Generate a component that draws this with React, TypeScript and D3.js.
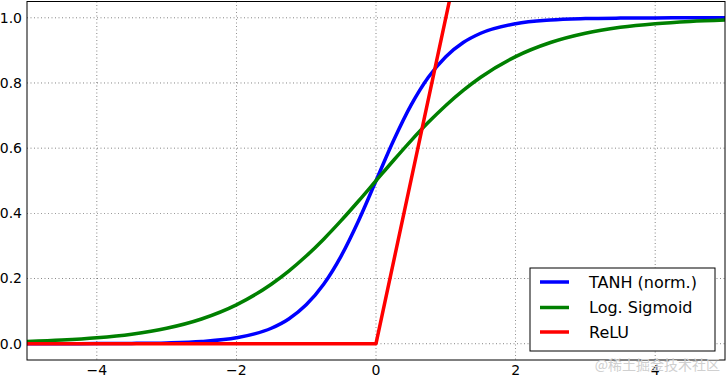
import React from "react";
import * as d3 from "d3";

const xs = [-5, -4.5, -4, -3.5, -3, -2.5, -2, -1.5, -1.25, -1, -0.75, -0.5, -0.25, 0, 0.25, 0.5, 0.75, 1, 1.25, 1.5, 2, 2.5, 3, 3.5, 4, 4.5, 5];
const tanhNorm = [0.00005, 0.00012, 0.00034, 0.00091, 0.00247, 0.0067, 0.018, 0.0474, 0.0759, 0.1192, 0.1824, 0.2689, 0.3775, 0.5, 0.6225, 0.7311, 0.8176, 0.8808, 0.9241, 0.9526, 0.982, 0.9933, 0.9975, 0.9991, 0.9997, 0.9999, 1.0];
const logSigmoid = [0.0067, 0.011, 0.018, 0.0293, 0.0474, 0.0759, 0.1192, 0.1824, 0.2227, 0.2689, 0.3208, 0.3775, 0.4378, 0.5, 0.5622, 0.6225, 0.6792, 0.7311, 0.7773, 0.8176, 0.8808, 0.9241, 0.9526, 0.9707, 0.982, 0.989, 0.9933];
const reluX = [-5, 0, 5];
const reluY = [0, 0, 5];
const xTicks = [-4, -2, 0, 2, 4];
const yTicks = [0, 0.2, 0.4, 0.6, 0.8, 1.0];
const seriesNames = ["TANH (norm.)", "Log. Sigmoid", "ReLU"];
const seriesColors = ["#0000ff", "#008000", "#ff0000"];

export default function App() {
  const W = 726, H = 378;
  const left = 27, right = 725, top = 1.5, bottom = 360;
  const x = d3.scaleLinear().domain([-5, 5]).range([left, right]);
  const y = d3.scaleLinear().domain([-0.05, 1.05]).range([bottom, top]);
  const line = d3.line<[number, number]>().x(d => x(d[0])).y(d => y(d[1])).curve(d3.curveMonotoneX);
  const lin = d3.line<[number, number]>().x(d => x(d[0])).y(d => y(d[1]));
  const tanhPts = xs.map((v, i) => [v, tanhNorm[i]] as [number, number]);
  const sigPts = xs.map((v, i) => [v, logSigmoid[i]] as [number, number]);
  const reluPts = reluX.map((v, i) => [v, reluY[i]] as [number, number]);
  const font = "DejaVu Sans, sans-serif";
  const lx = 530, ly = 268, lw = 185, lh = 83;
  const rows = [282, 307.5, 332];
  return (
    <svg width={W} height={H} style={{ position: "absolute", left: 0, top: 0, background: "#fff" }}>
      <defs>
        <clipPath id="plotclip">
          <rect x={left} y={top} width={right - left} height={bottom - top} />
        </clipPath>
      </defs>
      <rect x={0} y={0} width={W} height={H} fill="#fff" />
      {xTicks.map(t => (
        <line key={"gx" + t} x1={x(t)} x2={x(t)} y1={top} y2={bottom} stroke="#000" strokeWidth={0.6} strokeDasharray="1,2.5" opacity={0.8} />
      ))}
      {yTicks.map(t => (
        <line key={"gy" + t} x1={left} x2={right} y1={y(t)} y2={y(t)} stroke="#000" strokeWidth={0.6} strokeDasharray="1,2.5" opacity={0.8} />
      ))}
      <g clipPath="url(#plotclip)" fill="none" strokeWidth={3.5} strokeLinejoin="round">
        <path d={line(tanhPts) || ""} stroke={seriesColors[0]} />
        <path d={line(sigPts) || ""} stroke={seriesColors[1]} />
        <path d={lin(reluPts) || ""} stroke={seriesColors[2]} />
      </g>
      <rect x={left} y={top} width={right - left} height={bottom - top} fill="none" stroke="#000" strokeWidth={1} />
      {xTicks.map(t => (
        <text key={"tx" + t} x={x(t)} y={375} textAnchor="middle" fontFamily={font} fontSize={14}>{t < 0 ? "\u2212" + Math.abs(t) : String(t)}</text>
      ))}
      {yTicks.map(t => (
        <text key={"ty" + t} x={22} y={y(t)} dy="0.35em" textAnchor="end" fontFamily={font} fontSize={14}>{t.toFixed(1)}</text>
      ))}
      <rect x={lx} y={ly} width={lw} height={lh} fill="#fff" stroke="#000" strokeWidth={1} />
      {seriesNames.map((n, i) => (
        <g key={n}>
          <line x1={540} x2={569} y1={rows[i]} y2={rows[i]} stroke={seriesColors[i]} strokeWidth={3.5} />
          <text x={589} y={rows[i]} dy="0.36em" fontFamily={font} fontSize={16}>{n}</text>
        </g>
      ))}
      <text x={720} y={370} textAnchor="end" fontFamily="Noto Sans CJK SC, sans-serif" fontSize={14} fill="#d0d0d0">@稀土掘金技术社区</text>
    </svg>
  );
}
